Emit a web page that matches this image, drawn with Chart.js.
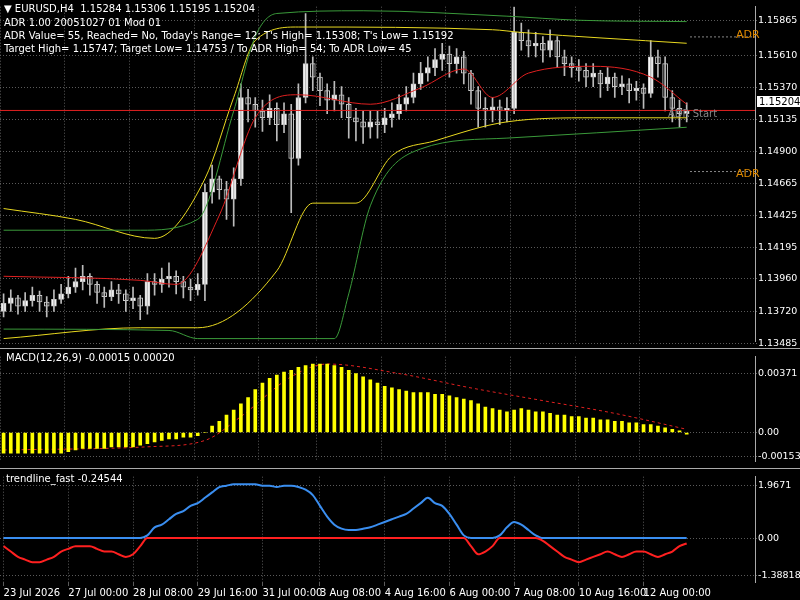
<!DOCTYPE html><html><head><meta charset="utf-8">
<script src="https://cdn.jsdelivr.net/npm/chart.js@4"></script>
<style>
body{margin:0;background:#000;width:800px;height:600px;overflow:hidden;position:relative;font-family:"DejaVu Sans",sans-serif}
canvas{position:absolute;left:0}
.t{position:absolute;color:#fff;font-size:10px;white-space:nowrap}
.sep{position:absolute;left:0;width:800px;height:1px;background:#aaa}
</style></head><body>
<canvas id="c1" style="top:0px" width="800" height="348"></canvas>
<canvas id="c2" style="top:350px" width="800" height="118"></canvas>
<canvas id="c3" style="top:470px" width="800" height="130"></canvas>
<div class="sep" style="top:348px"></div><div class="sep" style="top:468px"></div>
<div class="t" style="left:4px;top:3px">▼ EURUSD,H4 &nbsp;1.15284 1.15306 1.15195 1.15204</div>
<div class="t" style="left:4px;top:17px">ADR 1.00 20051027 01 Mod 01</div>
<div class="t" style="left:4px;top:30px">ADR Value= 55, Reached= No, Today's Range= 12; T's High= 1.15308; T's Low= 1.15192</div>
<div class="t" style="left:4px;top:43px">Target High= 1.15747; Target Low= 1.14753 / To ADR High= 54; To ADR Low= 45</div>
<div class="t" style="left:736px;top:28px;color:#e08a00;font-size:11px">ADR</div>
<div class="t" style="left:736px;top:167px;color:#e08a00;font-size:11px">ADR</div>
<div class="t" style="left:668px;top:108px;color:#888">ADR Start</div>
<div class="t" style="left:757px;top:96px;background:#fff;color:#000;padding:0 2px">1.15204</div>
<div class="t" style="left:6px;top:352px">MACD(12,26,9) -0.00015 0.00020</div>
<div class="t" style="left:6px;top:473px">trendline_fast -0.24544</div>
<script>
const closes=[1.1378,1.1382,1.1376,1.1380,1.1384,1.1379,1.1376,1.1381,1.1385,1.1390,1.1394,1.1398,1.1392,1.1386,1.1383,1.1388,1.1385,1.1380,1.1382,1.1376,
1.1394,1.1392,1.1396,1.1398,1.1394,1.1390,1.1388,1.1392,1.1460,1.1470,1.1462,1.1455,1.1470,1.1530,1.1525,1.1520,1.1515,1.1522,1.1510,1.1518,
1.1485,1.1530,1.1555,1.1545,1.1535,1.1528,1.1532,1.1525,1.1515,1.1512,1.1508,1.1512,1.1510,1.1515,1.1518,1.1525,1.1530,1.1540,1.1548,1.1552,1.1558,1.1562,
1.1555,1.1560,1.1548,1.1535,1.1522,1.1520,1.1523,1.1520,1.1522,1.1578,1.1572,1.1568,1.1570,1.1565,1.1572,1.1560,1.1555,1.1552,1.1550,1.1545,1.1548,1.1540,
1.1545,1.1538,1.1540,1.1535,1.1537,1.1533,1.1560,1.1555,1.1530,1.1522,1.1518,1.1520];
const opens=[1.1372].concat(closes.slice(0,-1));
const highs=[1.1385,1.1388,1.1384,1.1386,1.1390,1.1387,1.1383,1.1388,1.1392,1.1398,1.1404,1.1406,1.1400,1.1394,1.1390,1.1394,1.1392,1.1388,1.1390,1.1384,
1.1400,1.1400,1.1404,1.1408,1.1402,1.1398,1.1396,1.1400,1.1466,1.1480,1.1472,1.1468,1.1478,1.1540,1.1536,1.1530,1.1528,1.1532,1.1526,1.1526,
1.1525,1.1540,1.1592,1.1560,1.1548,1.1540,1.1542,1.1538,1.1530,1.1522,1.1520,1.1520,1.1520,1.1522,1.1526,1.1532,1.1538,1.1548,1.1556,1.1560,1.1566,1.1570,
1.1568,1.1566,1.1564,1.1550,1.1538,1.1530,1.1530,1.1528,1.1530,1.1597,1.1585,1.1580,1.1578,1.1575,1.1580,1.1575,1.1565,1.1560,1.1558,1.1555,1.1555,1.1550,
1.1552,1.1548,1.1546,1.1544,1.1542,1.1540,1.1572,1.1565,1.1560,1.1535,1.1528,1.1526];
const lows=[1.1368,1.1372,1.1370,1.1372,1.1376,1.1372,1.1368,1.1372,1.1378,1.1382,1.1386,1.1388,1.1384,1.1378,1.1375,1.1380,1.1378,1.1372,1.1374,1.1366,
1.1370,1.1384,1.1386,1.1390,1.1385,1.1382,1.1380,1.1384,1.1380,1.1452,1.1455,1.1440,1.1435,1.1465,1.1512,1.1508,1.1505,1.1510,1.1498,1.1504,
1.1445,1.1480,1.1526,1.1535,1.1524,1.1518,1.1520,1.1515,1.1500,1.1498,1.1496,1.1500,1.1500,1.1504,1.1508,1.1514,1.1520,1.1526,1.1536,1.1542,1.1546,1.1550,
1.1545,1.1548,1.1540,1.1525,1.1508,1.1508,1.1512,1.1510,1.1512,1.1518,1.1565,1.1560,1.1560,1.1556,1.1560,1.1552,1.1546,1.1545,1.1542,1.1538,1.1538,1.1530,
1.1535,1.1530,1.1532,1.1526,1.1528,1.1522,1.1530,1.1545,1.1520,1.1512,1.1508,1.1512];
const greenUpper={0:1.1432,19:1.1432,27:1.1440,32:1.1520,35:1.1575,38:1.1592,50:1.1594,70:1.1590,80:1.1587,95:1.1586};
const greenLower={0:1.1359,23:1.1358,27:1.1352,46:1.1352,48:1.1385,51:1.1450,58:1.1492,70:1.1500,95:1.1508};
const yellowUpper={0:1.1448,10:1.1440,21:1.1426,28:1.1470,32:1.1530,35:1.1572,41:1.1582,68:1.1580,72:1.1578,95:1.1570};
const yellowLower={0:1.1352,19:1.1360,27:1.1360,38:1.1402,43:1.1452,49:1.1452,54:1.1487,60:1.1498,70:1.1512,82:1.1515,95:1.1515};
const redMiddle={0:1.1398,19:1.1395,24:1.1392,30:1.1443,35:1.1515,41:1.1532,51:1.1525,58:1.1537,64:1.1551,68:1.1530,73:1.1548,82:1.1553,90:1.1545,95:1.1525};
const macdE4=[-13,-13,-13,-13,-13,-13,-13,-13,-13,-12,-11,-10,-10,-10,-10,-9,-9,-9,-9,-8,-7,-6,-5,-4,-4,-3,-3,-2,
0,4,7,11,14,18,22,27,31,34,36,38,39,41,42,43,43,43,42,41,39,37,35,33,31,29,28,27,26,
25,25,25,24,24,23,22,21,20,18,16,15,14,13,14,15,14,13,13,12,11,11,10,10,9,9,8,8,7,7,6,6,5,5,4,3,2,1,-1];
const signalE4={0:-11,20:-9,28:-5,33:10,40:35,45:43,55:37,65:28,75:20,85:12,95:2};
const trend=[-0.3,-0.5,-0.7,-0.8,-0.9,-0.9,-0.8,-0.7,-0.5,-0.4,-0.3,-0.3,-0.3,-0.4,-0.5,-0.5,-0.6,-0.7,-0.6,-0.3,
0.1,0.4,0.5,0.7,0.9,1.0,1.2,1.3,1.5,1.7,1.9,1.95,2.0,2.0,2.0,2.0,1.95,1.95,1.9,1.95,1.95,1.9,1.8,1.6,1.2,0.8,0.5,0.35,
0.3,0.3,0.35,0.4,0.5,0.6,0.7,0.8,0.9,1.1,1.3,1.5,1.3,1.2,0.9,0.5,0.1,-0.3,-0.6,-0.5,-0.3,0.1,0.4,0.6,0.5,0.3,0.1,-0.1,
-0.3,-0.5,-0.7,-0.8,-0.9,-0.8,-0.7,-0.6,-0.5,-0.6,-0.7,-0.6,-0.5,-0.5,-0.6,-0.7,-0.6,-0.5,-0.3,-0.2];
const xTickLabels={0:"23 Jul 2026",9:"27 Jul 00:00",18:"28 Jul 08:00",27:"29 Jul 16:00",36:"31 Jul 00:00",44:"3 Aug 08:00",53:"4 Aug 16:00",62:"6 Aug 00:00",71:"7 Aug 08:00",80:"10 Aug 16:00",89:"12 Aug 00:00"};
const priceTicks=[1.15865,1.15610,1.15370,1.15135,1.14900,1.14665,1.14425,1.14195,1.13960,1.13720,1.13485];
const macdTicks=[0.00371,0,-0.00153], macdTickText=["0.00371","0.00","-0.00153"];
const trendTicks=[1.9671,0,-1.38818], trendTickText=["1.9671","0.00","-1.38818"];
const lastPrice=1.15204;

const N=105, cats=[...Array(N).keys()].map(String);
const sparse=o=>cats.map((_,i)=>o[i]!==undefined?o[i]:null);
const GRID='#5a5a5a';
function xAxis(show){return{type:'category',offset:true,grid:{color:c=>xTickLabels[c.index]!==undefined?GRID:'transparent',tickLength:4,drawTicks:show,lineWidth:1},border:{display:false,dash:[1,2]},
 ticks:{display:show,autoSkip:false,maxRotation:0,align:'start',color:'#fff',font:{size:10,family:'DejaVu Sans'},padding:1,callback:(v,i)=>xTickLabels[i]||''}};}
function yAxis(min,max,vals,fmt){return{position:'right',min,max,afterFit:s=>{s.width=45},afterBuildTicks:s=>{s.ticks=vals.map(v=>({value:v}))},
 grid:{color:GRID,tickLength:2},border:{color:'#aaa',dash:[1,2]},ticks:{color:'#fff',font:{size:9.5,family:'DejaVu Sans'},padding:1,callback:fmt}};}
Chart.defaults.animation=false;
const base={responsive:false,plugins:{legend:{display:false},tooltip:{enabled:false}},layout:{padding:0}};
const line=(d,c,w,ex)=>Object.assign({type:'line',data:d,borderColor:c,borderWidth:w||1,pointRadius:0,spanGaps:true,cubicInterpolationMode:'monotone'},ex||{});
const hlines={id:'hl',afterDatasetsDraw(ch,a,o){if(!o.lines)return;const {ctx,chartArea:ca,scales:{y}}=ch;o.lines.forEach(l=>{ctx.save();ctx.strokeStyle=l.c;ctx.lineWidth=1;ctx.setLineDash(l.d||[]);const py=y.getPixelForValue(l.v);ctx.beginPath();ctx.moveTo(l.x0??ca.left,py);ctx.lineTo(ca.right,py);ctx.stroke();ctx.restore();});}};
Chart.register(hlines);
const bodies=closes.map((c,i)=>[opens[i],c]);
new Chart(c1,{data:{labels:cats,datasets:[
 line(sparse(greenUpper),'#3a9a3a'),line(sparse(greenLower),'#3a9a3a'),
 line(sparse(yellowUpper),'#e8d820'),line(sparse(yellowLower),'#e8d820'),line(sparse(redMiddle),'#e02020'),
 {type:'bar',data:highs.map((h,i)=>[lows[i],h]),backgroundColor:'#bbb',barThickness:1,grouped:false},
 {type:'bar',data:bodies,backgroundColor:closes.map((c,i)=>c>=opens[i]?'#fff':'#000'),borderColor:'#ccc',borderWidth:1,borderSkipped:false,barThickness:5,grouped:false,minBarLength:1}
]},options:{...base,plugins:{...base.plugins,hl:{lines:[{v:lastPrice,c:'#e02020'},{v:1.15747,c:'#888',d:[2,2],x0:690},{v:1.14753,c:'#888',d:[2,2],x0:690}]}},
 scales:{x:xAxis(false),y:yAxis(1.1350,1.1597,priceTicks,v=>v.toFixed(5))}}});
new Chart(c2,{data:{labels:cats,datasets:[
 {type:'bar',data:macdE4.map(v=>v/1e4),backgroundColor:'#ffff00',barThickness:3,grouped:false},
 line(sparse(signalE4).map(v=>v===null?null:v/1e4),'#e02020',1,{borderDash:[3,3]})
]},options:{...base,scales:{x:xAxis(false),y:yAxis(-0.00181,0.00476,macdTicks,(v,i)=>macdTickText[i])}}});
new Chart(c3,{data:{labels:cats,datasets:[
 line(trend.map(v=>Math.min(v,0)),'#ff2020',2),
 line(trend.map(v=>Math.max(v,0)),'#3a8ef0',2)
]},options:{...base,scales:{x:xAxis(true),y:yAxis(-1.635,2.285,trendTicks,(v,i)=>trendTickText[i])}}});
</script></body></html>
